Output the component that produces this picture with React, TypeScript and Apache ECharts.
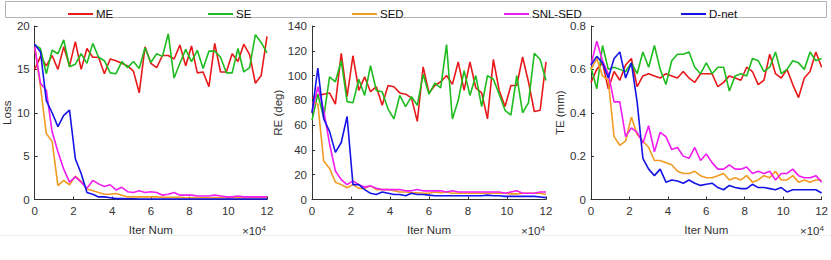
import React, { useEffect, useRef } from "react";
import * as echarts from "echarts";

const iterations = [0, 0.3, 0.6, 0.9, 1.2, 1.5, 1.8, 2.1, 2.4, 2.7, 3.0, 3.3, 3.6, 3.9, 4.2, 4.5, 4.8, 5.1, 5.4, 5.7, 6.0, 6.3, 6.6, 6.9, 7.2, 7.5, 7.8, 8.1, 8.4, 8.7, 9.0, 9.3, 9.6, 9.9, 10.2, 10.5, 10.8, 11.1, 11.4, 11.7, 12.0];

const seriesNames = ["ME", "SE", "SED", "SNL-SED", "D-net"];
const seriesColors = ["#e8191a", "#1ebc1e", "#f29b22", "#f01cf0", "#1414e6"];

// Loss
const lossME = [15, 16.5, 15.4, 16.6, 15, 17.6, 15.4, 18.2, 15, 17.4, 16.4, 16.4, 14.5, 16.2, 16, 15.7, 15.4, 14.8, 12.3, 17.6, 15.7, 15.2, 16.6, 16.6, 16.2, 17.8, 15.4, 17.7, 14.6, 14.7, 13, 18, 14.7, 14.7, 16.8, 15.9, 17.9, 16.7, 13.4, 14.3, 18.8];
const lossSE = [17.8, 17.4, 14.5, 17.2, 16.8, 18.4, 15.3, 15.6, 16.8, 15.7, 18.0, 16.4, 16.0, 14.6, 14.5, 15.9, 15.2, 15.9, 15.1, 17.5, 15.8, 16.8, 16.5, 19.1, 14.0, 15.7, 17.3, 15.9, 17.2, 15.1, 17.1, 17.1, 16.4, 14.6, 14.6, 17.4, 14.7, 15.2, 19.0, 18.1, 16.9];
const lossSED = [17.6, 13, 7.6, 6.7, 1.6, 2.2, 1.7, 2.7, 2.1, 1.2, 1.0, 0.8, 0.6, 0.6, 0.7, 0.5, 0.3, 0.3, 0.3, 0.3, 0.3, 0.3, 0.25, 0.25, 0.25, 0.25, 0.2, 0.2, 0.2, 0.2, 0.2, 0.2, 0.2, 0.2, 0.2, 0.2, 0.2, 0.2, 0.2, 0.2, 0.2];
const lossSNL = [17.6, 13.4, 12.6, 7.8, 5.5, 3.5, 2.0, 2.6, 2.0, 1.3, 2.2, 1.8, 1.5, 1.7, 1.1, 1.4, 0.9, 0.8, 1.0, 0.8, 0.9, 0.8, 0.5, 0.6, 0.8, 0.5, 0.5, 0.5, 0.4, 0.4, 0.4, 0.5, 0.4, 0.3, 0.3, 0.4, 0.3, 0.3, 0.3, 0.3, 0.3];
const lossDnet = [17.9, 17, 11.4, 10, 8.4, 9.7, 10.3, 4.7, 3.0, 0.8, 0.6, 0.3, 0.3, 0.2, 0.1, 0.1, 0.08, 0.08, 0.06, 0.06, 0.05, 0.05, 0.05, 0.05, 0.05, 0.05, 0.05, 0.05, 0.05, 0.05, 0.05, 0.05, 0.05, 0.05, 0.05, 0.05, 0.05, 0.05, 0.05, 0.05, 0.05];

// RE (deg)
const reME = [82, 84, 85, 86, 77, 118, 83, 116, 88, 99, 87, 91, 76, 92, 91, 86, 85, 82, 63, 107, 86, 92, 95, 100, 93, 111, 88, 111, 90, 86, 65, 113, 88, 75, 92, 92, 115, 95, 71, 72, 111];
const reSE = [64, 85, 66, 99, 95, 112, 79, 78, 97, 84, 108, 88, 87, 73, 65, 84, 75, 83, 76, 101, 85, 94, 90, 125, 65, 80, 104, 84, 100, 75, 100, 97, 85, 72, 68, 100, 70, 78, 118, 113, 96];
const reSED = [78, 77, 31, 25, 14, 12, 9.5, 12, 9, 9, 11, 8, 8, 8, 7, 6, 6, 5.5, 5.5, 5, 5, 6, 5.5, 6, 5, 5, 5, 5, 5, 5, 5, 5, 5, 5, 4.5, 4.5, 5, 5, 5, 5, 4];
const reSNL = [70, 91, 72, 45, 23, 16, 12, 15, 12, 10, 11, 9, 8, 8, 8, 8, 7, 7, 8, 7, 7, 7, 7, 6, 7, 6, 6, 6, 6, 6, 6, 6, 6, 5, 6, 7, 5, 5, 5, 6, 6];
const reDnet = [70, 106, 65, 55, 38, 46, 67, 12, 12, 8, 5, 4, 6, 5, 4, 4, 3, 5, 4, 4, 3.5, 3, 3, 3, 3, 3, 3, 3, 3, 3, 3.5, 3, 3, 2.5, 2.5, 2.5, 2.5, 2.5, 2.5, 2, 1.5];

// TE (mm)
const teME = [0.54, 0.60, 0.63, 0.51, 0.59, 0.55, 0.62, 0.65, 0.52, 0.57, 0.58, 0.57, 0.56, 0.58, 0.57, 0.56, 0.59, 0.56, 0.54, 0.58, 0.58, 0.58, 0.52, 0.54, 0.57, 0.56, 0.55, 0.61, 0.59, 0.53, 0.55, 0.67, 0.58, 0.56, 0.60, 0.53, 0.47, 0.56, 0.59, 0.68, 0.61];
const teSE = [0.61, 0.51, 0.71, 0.60, 0.61, 0.60, 0.59, 0.63, 0.58, 0.68, 0.61, 0.71, 0.60, 0.53, 0.64, 0.67, 0.67, 0.68, 0.61, 0.58, 0.63, 0.58, 0.61, 0.61, 0.50, 0.57, 0.58, 0.57, 0.65, 0.64, 0.59, 0.61, 0.68, 0.58, 0.60, 0.64, 0.63, 0.60, 0.68, 0.64, 0.65];
const teSED = [0.60, 0.65, 0.57, 0.55, 0.29, 0.25, 0.27, 0.38, 0.30, 0.27, 0.24, 0.18, 0.18, 0.17, 0.16, 0.13, 0.12, 0.12, 0.13, 0.11, 0.10, 0.10, 0.11, 0.12, 0.09, 0.10, 0.09, 0.11, 0.08, 0.09, 0.11, 0.10, 0.13, 0.09, 0.09, 0.11, 0.08, 0.09, 0.08, 0.09, 0.09];
const teSNL = [0.62, 0.73, 0.64, 0.58, 0.45, 0.45, 0.29, 0.33, 0.31, 0.26, 0.34, 0.22, 0.31, 0.29, 0.23, 0.24, 0.20, 0.19, 0.24, 0.18, 0.21, 0.17, 0.14, 0.14, 0.16, 0.14, 0.14, 0.15, 0.12, 0.13, 0.12, 0.13, 0.09, 0.12, 0.12, 0.14, 0.11, 0.10, 0.10, 0.11, 0.08];
const teDnet = [0.62, 0.66, 0.63, 0.56, 0.65, 0.68, 0.56, 0.63, 0.45, 0.19, 0.14, 0.11, 0.14, 0.08, 0.09, 0.085, 0.075, 0.09, 0.075, 0.065, 0.07, 0.075, 0.055, 0.045, 0.065, 0.055, 0.05, 0.05, 0.07, 0.055, 0.055, 0.05, 0.045, 0.055, 0.035, 0.045, 0.045, 0.045, 0.045, 0.045, 0.03];

const yNames = ["Loss", "RE (deg)", "TE (mm)"];
const yMax = [20, 140, 0.8];
const yInterval = [5, 20, 0.2];
const xTicks = { min: 0, max: 12, interval: 2 };
const legendLeft = [63, 203, 347, 499, 676];

const panelData = [
  [lossME, lossSE, lossSED, lossSNL, lossDnet],
  [reME, reSE, reSED, reSNL, reDnet],
  [teME, teSE, teSED, teSNL, teDnet],
];

const gridPos = [
  { left: 33, width: 234 },
  { left: 312, width: 234 },
  { left: 591, width: 234 },
];

const FONT = "'Liberation Sans', Arial, Helvetica, sans-serif";
const AX = "#333333";

export default function App() {
  const ref = useRef<HTMLDivElement>(null);
  useEffect(() => {
    if (!ref.current) return;
    const chart = echarts.init(ref.current, undefined, { renderer: "svg" });
    const grids = gridPos.map((g) => ({ left: g.left, width: g.width, top: 26, height: 173.5 }));
    const xAxes = gridPos.map((_, i) => ({
      type: "value",
      gridIndex: i,
      min: xTicks.min,
      max: xTicks.max,
      interval: xTicks.interval,
      name: "Iter Num",
      nameLocation: "middle",
      nameGap: 24,
      nameTextStyle: { color: AX, fontSize: 11.5, fontFamily: FONT },
      axisLine: { show: true, lineStyle: { color: AX, width: 1 } },
      axisTick: { show: true, inside: true, length: 3, lineStyle: { color: AX } },
      axisLabel: { color: AX, fontSize: 11.5, fontFamily: FONT, margin: 5 },
      splitLine: { show: false },
    }));
    const yAxes = gridPos.map((_, i) => ({
      type: "value",
      gridIndex: i,
      min: 0,
      max: yMax[i],
      interval: yInterval[i],
      name: yNames[i],
      nameLocation: "middle",
      nameGap: i === 0 ? 17 : 23,
      nameRotate: 90,
      nameTextStyle: { color: AX, fontSize: 11.5, fontFamily: FONT },
      axisLine: { show: true, lineStyle: { color: AX, width: 1 } },
      axisTick: { show: true, inside: true, length: 3, lineStyle: { color: AX } },
      axisLabel: { color: AX, fontSize: 11.5, fontFamily: FONT, margin: 5 },
      splitLine: { show: false },
    }));
    const series: any[] = [];
    panelData.forEach((panel, pi) => {
      panel.forEach((vals, si) => {
        series.push({
          type: "line",
          name: seriesNames[si],
          xAxisIndex: pi,
          yAxisIndex: pi,
          data: iterations.map((x, k) => [x, vals[k]]),
          symbol: "none",
          showSymbol: false,
          lineStyle: { color: seriesColors[si], width: 1.6 },
          itemStyle: { color: seriesColors[si] },
          z: 2 + si,
        });
      });
    });
    const legends = seriesNames.map((n, i) => ({
      data: [n],
      left: legendLeft[i],
      top: 3,
      icon: "rect",
      itemWidth: 25,
      itemHeight: 2,
      selectedMode: false,
      textStyle: { color: "#111", fontSize: 11.5, fontFamily: FONT, padding: [0, 0, 0, -2] },
    }));
    const graphics: any[] = [
      {
        type: "rect",
        shape: { x: 5.5, y: 1.5, width: 821, height: 16 },
        style: { fill: "none", stroke: "#b4b4b4", lineWidth: 1 },
        z: -1,
      },
      {
        type: "line",
        shape: { x1: 0, y1: 235.5, x2: 831, y2: 235.5 },
        style: { stroke: "#efefef", lineWidth: 1 },
      },
    ];
    gridPos.forEach((g) => {
      graphics.push({
        type: "text",
        x: g.left + g.width - 25,
        y: 224,
        style: {
          text: "{a|×10}{b|4}",
          rich: {
            a: { fontSize: 11.5, fontFamily: FONT, fill: AX, color: AX },
            b: { fontSize: 8, fontFamily: FONT, fill: AX, color: AX, verticalAlign: "top", padding: [0, 0, 6, 0] },
          },
        },
      });
    });
    chart.setOption({
      animation: false,
      backgroundColor: "#ffffff",
      grid: grids,
      xAxis: xAxes,
      yAxis: yAxes,
      legend: legends,
      series,
      graphic: graphics,
    });
    return () => chart.dispose();
  }, []);
  return (
    <div
      ref={ref}
      style={{ position: "fixed", left: 0, top: 0, width: 831, height: 260, background: "#fff" }}
    />
  );
}
